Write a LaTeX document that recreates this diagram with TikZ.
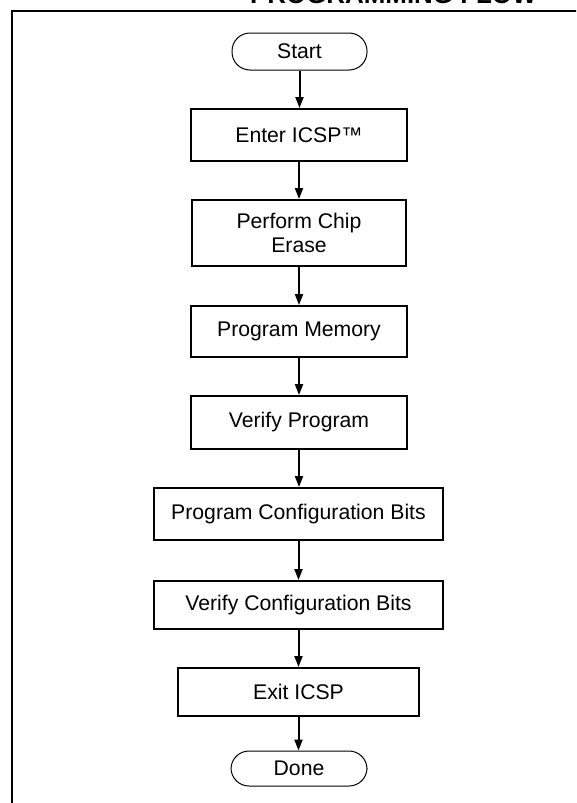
\documentclass[tikz,border=0pt]{standalone}
\usepackage{fontspec}
\setmainfont{Liberation Sans}
\usetikzlibrary{arrows.meta}
\begin{document}
\begin{tikzpicture}[x=1pt,y=-1pt,
  lbl/.style={font=\fontsize{21.2}{24}\selectfont},
  stepbox/.style={lbl,draw,line width=2pt,rectangle,inner sep=0pt,align=center},
  term/.style={lbl,draw,line width=1pt,rectangle,rounded corners=18pt,inner sep=0pt},
  flow/.style={line width=2pt,-{Triangle[length=11pt,width=8pt]}},
  framestyle/.style={line width=2pt}]
\useasboundingbox (0,0) rectangle (576,803);
\clip (0,0) rectangle (576,803);
\node[anchor=base west,font=\bfseries\fontsize{25.9}{30}\selectfont,inner sep=0pt] (title) at (250,4) {PROGRAMMING FLOW};
\coordinate (fa) at (12,805);
\coordinate (fb) at (12,11);
\coordinate (fc) at (578,11);
\draw[framestyle] (fa) -- (fb) -- (fc);

\node[term,minimum width=135pt,minimum height=37pt] (start) at (299.5,51.5) {Start};
\node[stepbox,minimum width=216pt,minimum height=52pt] (enter) at (299,135) {Enter ICSP™};
\node[stepbox,minimum width=214pt,minimum height=66pt] (erase) at (299,233) {Perform Chip\\Erase};
\node[stepbox,minimum width=216pt,minimum height=51pt] (progmem) at (299,331.5) {Program Memory};
\node[stepbox,minimum width=216pt,minimum height=53pt] (verprog) at (299,422.5) {Verify Program};
\node[stepbox,minimum width=289pt,minimum height=52pt] (progcfg) at (298.5,514) {Program Configuration Bits};
\node[stepbox,minimum width=289pt,minimum height=48pt] (vercfg) at (298.5,605) {Verify Configuration Bits};
\node[stepbox,minimum width=241pt,minimum height=48pt] (exit) at (298.5,692) {Exit ICSP};
\node[term,minimum width=136pt,minimum height=35pt] (done) at (299,768.5) {Done};

\draw[flow] (start.south) -- (start.south |- enter.north);
\draw[flow] (enter.south) -- (enter.south |- erase.north);
\draw[flow] (erase.south) -- (erase.south |- progmem.north);
\draw[flow] (progmem.south) -- (progmem.south |- verprog.north);
\draw[flow] (verprog.south) -- (verprog.south |- progcfg.north);
\draw[flow] (progcfg.south) -- (progcfg.south |- vercfg.north);
\draw[flow] (vercfg.south) -- (vercfg.south |- exit.north);
\draw[flow] (exit.south) -- (exit.south |- done.north);
\end{tikzpicture}
\end{document}
